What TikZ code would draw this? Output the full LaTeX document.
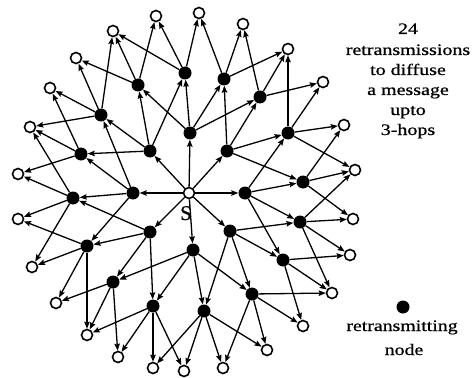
\documentclass[tikz,border=0pt]{standalone}
\usepackage{fontspec}
\setmainfont{Liberation Serif}[FakeBold=0.6]
\usetikzlibrary{arrows.meta}
\begin{document}
\begin{tikzpicture}[x=1pt,y=-1pt,
  opn/.style={circle,draw,line width=1.6pt,minimum size=11pt,inner sep=0pt,fill=white},
  fil/.style={circle,fill,minimum size=13pt,inner sep=0pt},
  arr/.style={-{Stealth[length=7pt,width=5.5pt,inset=1pt]},line width=1.3pt},
  lbl/.style={font=\fontsize{16}{19}\selectfont,anchor=base,inner sep=0pt}
]
\useasboundingbox (0,0) rectangle (473,377);
% source
\node[opn] (S) at (189,193) {};
% inner ring
\foreach \n/\x/\y in {I0/190/133,I1/227/151,I2/245/193,I3/230/231,I4/193/250,I5/150/232,I6/133/193,I7/150/151}
  \node[fil] (\n) at (\x,\y) {};
% outer filled ring
\foreach \n/\x/\y in {F1/185/73,F2/224/79,F3/260/97,F4/288/133,F5/303/182,F6/300/222,F7/283/260,F8/252/294,
  F9/204/311,F10/153/306,F11/113/282,F12/87/246,F13/73/198,F14/81/154,F15/101/115,F16/138/85}
  \node[fil] (\n) at (\x,\y) {};
% open nodes
\foreach \n/\x/\y in {O1/156/16,O2/199/13,O3/243/24,O4/288/49,O5/323/82,O6/344/125,O7/355/170,O8/353/219,
  O9/350/255,O10/332/293,O11/303/326,O12/267/350,O13/223/368,O14/184/371,O15/153/368,O16/118/357,
  O17/87/335,O18/56/303,O19/32/267,O20/18/219,O21/18/174,O22/30/127,O23/50/88,O24/76/58,O25/113/31}
  \node[opn] (\n) at (\x,\y) {};
% S to inner
\foreach \b in {I0,I1,I2,I3,I4,I5,I6,I7}
  \draw[arr] (S) -- (\b);
% inner to outer filled
\foreach \a/\b in {I0/F1,I0/F16,I0/F2,I0/F3,I1/F2,I1/F3,I1/F4,I1/F5,I2/F4,I2/F5,I2/F6,I2/F7,
  I3/F6,I3/F7,I3/F8,I3/F9,I4/F8,I4/F9,I4/F10,I4/F11,I5/F10,I5/F11,I5/F12,I5/F13,
  I6/F12,I6/F13,I6/F14,I6/F15,I7/F14,I7/F15,I7/F16,I7/F1}
  \draw[arr] (\a) -- (\b);
% outer filled to open
\foreach \a/\b in {F1/O25,F1/O1,F1/O2,F2/O2,F2/O3,F2/O4,F3/O3,F3/O4,F3/O5,
  F4/O4,F4/O5,F4/O6,F4/O7,F5/O6,F5/O7,F5/O8,F6/O7,F6/O8,F6/O9,F6/O10,
  F7/O9,F7/O10,F7/O11,F8/O10,F8/O11,F8/O12,F8/O13,F9/O12,F9/O13,F9/O14,F9/O15,
  F10/O17,F10/O16,F10/O15,F10/O14,F11/O18,F11/O17,F11/O16,
  F12/O19,F12/O18,F12/O17,F12/O20,F13/O22,F13/O21,F13/O20,F13/O19,
  F14/O23,F14/O22,F14/O21,F15/O25,F15/O24,F15/O23,F15/O22,F16/O1,F16/O25,F16/O24}
  \draw[arr] (\a) -- (\b);
% label S
\node[font=\fontsize{21}{21}\selectfont,anchor=base,inner sep=0pt] (slbl) at (186,220) {S};
% caption
\node[lbl] (t1) at (408,34) {\scalebox{1.25}[1]{24}};
\node[lbl] (t2) at (408,55) {\scalebox{1.25}[1]{retransmissions}};
\node[lbl] (t3) at (408,75) {\scalebox{1.25}[1]{to diffuse}};
\node[lbl] (t4) at (408,95) {\scalebox{1.25}[1]{a message}};
\node[lbl] (t5) at (408,115) {\scalebox{1.25}[1]{upto}};
\node[lbl] (t6) at (408,135) {\scalebox{1.25}[1]{3-hops}};
% legend
\node[fil] (leg) at (403,307) {};
\node[lbl] (l1) at (402,331) {\scalebox{1.24}[1]{retransmitting}};
\node[lbl] (l2) at (404,355) {\scalebox{1.24}[1]{node}};
\end{tikzpicture}
\end{document}
